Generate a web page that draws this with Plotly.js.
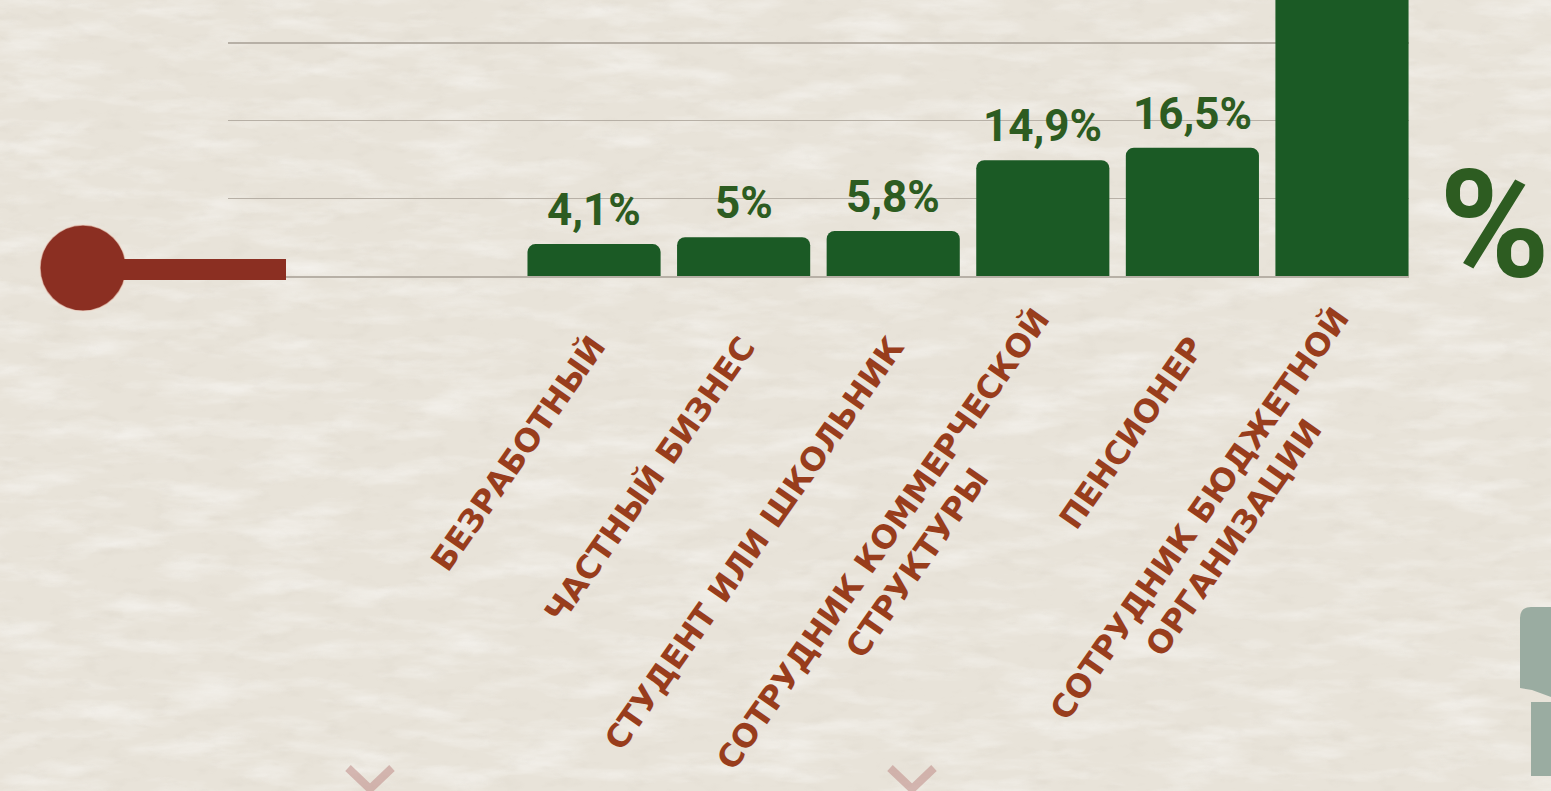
<!DOCTYPE html>
<html>
<head>
<meta charset="utf-8">
<script src="https://cdn.plot.ly/plotly-3.0.1.min.js"></script>
<style>
  html, body { margin: 0; padding: 0; width: 1551px; height: 791px; overflow: hidden; background: #e8e3d9; }
  #bg { position: absolute; left: 0; top: 0; width: 1551px; height: 791px; }
  #chart { position: absolute; left: 0; top: 0; width: 1551px; height: 791px; }
</style>
</head>
<body>
<svg id="bg" xmlns="http://www.w3.org/2000/svg" width="1551" height="791">
  <defs>
    <filter id="paper" x="0" y="0" width="100%" height="100%">
      <feTurbulence type="fractalNoise" baseFrequency="0.012 0.05" numOctaves="5" seed="7" result="n"/>
      <feColorMatrix in="n" type="matrix" values="0 0 0 0 1  0 0 0 0 1  0 0 0 0 1  2.0 0 0 0 -0.9"/>
    </filter>
    <filter id="paper2" x="0" y="0" width="100%" height="100%">
      <feTurbulence type="fractalNoise" baseFrequency="0.04 0.09" numOctaves="3" seed="2" result="n"/>
      <feColorMatrix in="n" type="matrix" values="0 0 0 0 0.55  0 0 0 0 0.5  0 0 0 0 0.42  1.6 0 0 0 -0.85"/>
    </filter>
  </defs>
  <rect width="1551" height="791" fill="#e8e3d9"/>
  <rect width="1551" height="791" filter="url(#paper)" opacity="0.5"/>
  <rect width="1551" height="791" filter="url(#paper2)" opacity="0.18"/>
</svg>
<div id="chart"></div>
<script>
// ---- data ----
const categories = ['Безработный', 'Частный бизнес', 'Студент или школьник', 'Сотрудник коммерческой структуры', 'Пенсионер', 'Сотрудник бюджетной организации'];
const categoryLabels = ['БЕЗРАБОТНЫЙ', 'ЧАСТНЫЙ БИЗНЕС', 'СТУДЕНТ ИЛИ ШКОЛЬНИК', 'СОТРУДНИК КОММЕРЧЕСКОЙ<br>СТРУКТУРЫ', 'ПЕНСИОНЕР', 'СОТРУДНИК БЮДЖЕТНОЙ<br>ОРГАНИЗАЦИИ'];
const values = [4.1, 5, 5.8, 14.9, 16.5, 53.7];
const valueLabels = ['4,1%', '5%', '5,8%', '14,9%', '16,5%', '53,7%'];
const yTickVals = [0, 10, 20, 30];
const unitLabel = '%';

// ---- layout geometry ----
const W = 1551, H = 791;
const M = { l: 228, r: 142, t: 0, b: 515 };
const PW = W - M.l - M.r, PH = H - M.t - M.b;
const X = px => (px - M.l) / PW;          // pixel -> paper x
const Y = py => (H - M.b - py) / PH;       // pixel -> paper y

const green = '#1b5a25';
const textGreen = '#2d5c21';
const brown = '#983d1c';
const labelFont = "'DejaVu Sans', sans-serif";
const valueFont = "Roboto, 'DejaVu Sans Condensed', sans-serif";

const trace = {
  type: 'bar',
  x: categories,
  y: values,
  width: 0.89,
  marker: { color: green, cornerradius: 8 },
  hoverinfo: 'skip'
};

const annotations = [];
categories.forEach((c, i) => {
  const multi = categoryLabels[i].indexOf('<br>') >= 0;
  annotations.push({
    x: c, y: 0, xref: 'x', yref: 'y',
    text: categoryLabels[i],
    textangle: -55,
    xanchor: 'right', yanchor: 'top',
    xshift: multi ? 52 : 22, yshift: multi ? -22 : -51,
    showarrow: false, align: 'center',
    font: { family: labelFont, size: 32, color: brown, weight: 700 }
  });
  annotations.push({
    x: c, y: values[i], xref: 'x', yref: 'y',
    text: valueLabels[i],
    xanchor: 'center', yanchor: 'bottom',
    yshift: 6,
    showarrow: false,
    font: { family: valueFont, size: 44, color: textGreen, weight: 700 }
  });
});
annotations.push({
  x: X(1494), y: Y(226), xref: 'paper', yref: 'paper',
  text: unitLabel, showarrow: false,
  xanchor: 'center', yanchor: 'middle',
  font: { family: valueFont, size: 150, color: textGreen, weight: 700 }
});

const chevron = cx => ({
  type: 'path', xref: 'paper', yref: 'paper', layer: 'above',
  path: `M ${X(cx - 22)} ${Y(768)} L ${X(cx)} ${Y(789)} L ${X(cx + 22)} ${Y(768)}`,
  line: { color: 'rgba(185,130,125,0.5)', width: 8 }
});

const shapes = [
  { type: 'circle', xref: 'paper', yref: 'paper', x0: X(40), x1: X(126), y0: Y(311), y1: Y(225),
    fillcolor: '#8b2f22', line: { color: 'rgba(240,215,200,0.6)', width: 1.5 } },
  { type: 'rect', xref: 'paper', yref: 'paper', x0: X(83), x1: X(286), y0: Y(280), y1: Y(259),
    fillcolor: '#8b2f22', line: { width: 0 } },
  chevron(370),
  chevron(912),
  { type: 'path', xref: 'paper', yref: 'paper',
    path: `M ${X(1520)} ${Y(688)} L ${X(1520)} ${Y(618)} Q ${X(1520)} ${Y(607)} ${X(1531)} ${Y(607)} L ${X(1551)} ${Y(607)} L ${X(1551)} ${Y(697)} L ${X(1532)} ${Y(690)} Z`,
    fillcolor: '#9aaca1', line: { width: 0 } },
  { type: 'rect', xref: 'paper', yref: 'paper', x0: X(1531), x1: X(1551), y0: Y(776), y1: Y(702),
    fillcolor: '#9aaca1', line: { width: 0 } }
];

const layout = {
  width: W, height: H,
  margin: M,
  paper_bgcolor: 'rgba(0,0,0,0)',
  plot_bgcolor: 'rgba(0,0,0,0)',
  showlegend: false,
  xaxis: {
    type: 'category', range: [-2.447, 5.448],
    showgrid: false, zeroline: false, showticklabels: false, ticks: '',
    showline: true, linecolor: '#b7b0a6', linewidth: 1.5, fixedrange: true
  },
  yaxis: {
    range: [0, 35.5], tickvals: yTickVals, showticklabels: false, ticks: '',
    showgrid: true, gridcolor: '#b7b0a6', gridwidth: 1.5, zeroline: false, fixedrange: true
  },
  annotations: annotations,
  shapes: shapes
};

Plotly.newPlot('chart', [trace], layout, { displayModeBar: false, staticPlot: true });
</script>
</body>
</html>
